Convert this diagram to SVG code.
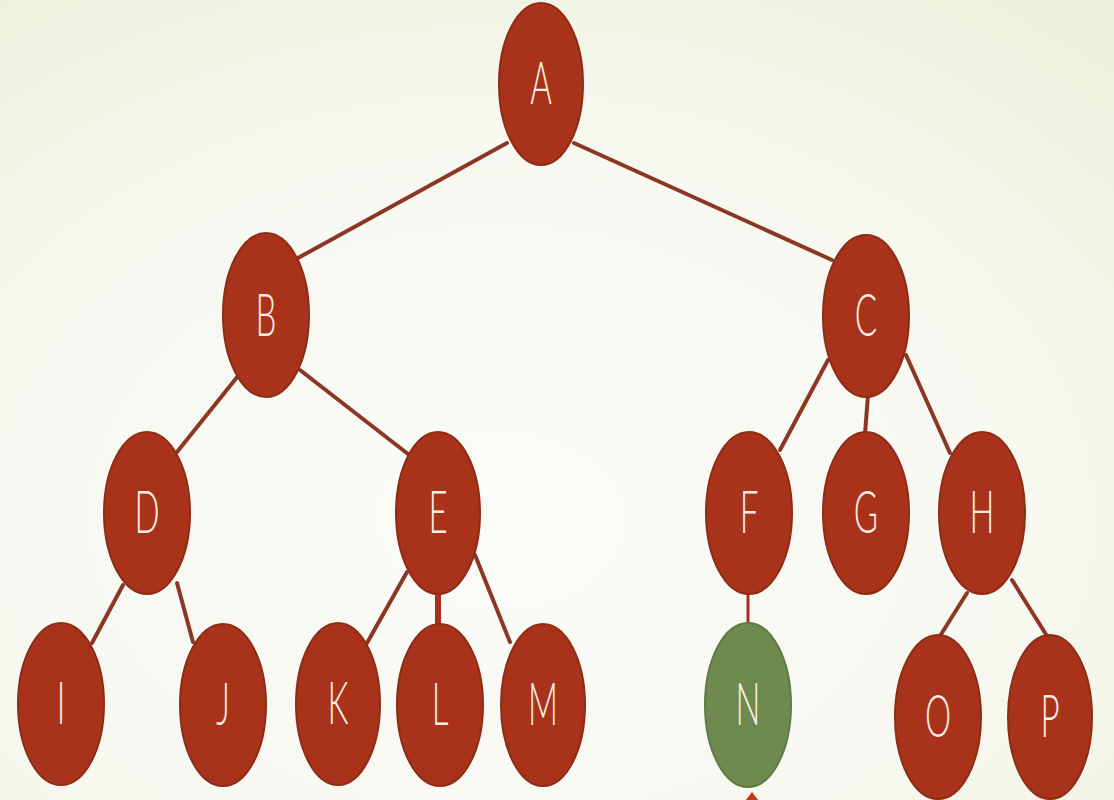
<svg xmlns="http://www.w3.org/2000/svg" width="1114" height="800" viewBox="0 0 1114 800">
<defs>
<radialGradient id="bg" cx="0.45" cy="0.65" r="0.8">
<stop offset="0" stop-color="#fbfbf8"/>
<stop offset="0.6" stop-color="#f7f8f0"/>
<stop offset="1" stop-color="#edf1dc"/>
</radialGradient>
<style>
.n ellipse{fill:#a9331a;stroke:#8e2c16;stroke-width:2}
.g ellipse{fill:#6e8a4f;stroke:#5f7a44;stroke-width:2}
.n text,.g text{font-family:Lato,"Open Sans","DejaVu Sans",sans-serif;font-weight:300;font-size:60px;fill:#fbefe4;text-anchor:middle}
.e line{stroke:#8c3726;stroke-width:4;stroke-linecap:round}
</style>
</defs>
<rect width="1114" height="800" fill="url(#bg)"/>
<g id="connectors" class="e">
<line x1="507" y1="143" x2="298" y2="258"/>
<line x1="574" y1="143" x2="832" y2="260"/>
<line x1="238" y1="376" x2="177" y2="452"/>
<line x1="300" y1="370" x2="408" y2="454"/>
<line x1="123" y1="585" x2="92" y2="643"/>
<line x1="177" y1="583" x2="193" y2="642"/>
<line x1="407" y1="572" x2="367" y2="643"/>
<line x1="438" y1="592" x2="438" y2="626" style="stroke:#a9301a;stroke-width:6;stroke-linecap:butt"/>
<line x1="475" y1="555" x2="510" y2="642"/>
<line x1="828" y1="360" x2="780" y2="450"/>
<line x1="868" y1="395" x2="865" y2="434"/>
<line x1="906" y1="355" x2="950" y2="453"/>
<line x1="748" y1="594" x2="748" y2="624" style="stroke:#b02c1a;stroke-width:3;stroke-linecap:butt"/>
<line x1="967" y1="593" x2="940" y2="636"/>
<line x1="1012" y1="580" x2="1047" y2="636"/>
</g>
<g id="node-A" class="n"><ellipse cx="541" cy="84" rx="42" ry="81"/><text transform="translate(541,104) scale(0.55,1)">A</text></g>
<g id="node-B" class="n"><ellipse cx="266" cy="315" rx="43" ry="82"/><text transform="translate(266,336) scale(0.55,1)">B</text></g>
<g id="node-C" class="n"><ellipse cx="866" cy="316" rx="43" ry="81"/><text transform="translate(866,336) scale(0.55,1)">C</text></g>
<g id="node-D" class="n"><ellipse cx="147" cy="513" rx="43" ry="81"/><text transform="translate(147,533) scale(0.55,1)">D</text></g>
<g id="node-E" class="n"><ellipse cx="438" cy="513" rx="42" ry="81"/><text transform="translate(438,533) scale(0.55,1)">E</text></g>
<g id="node-F" class="n"><ellipse cx="749" cy="513" rx="43" ry="81"/><text transform="translate(749,533) scale(0.55,1)">F</text></g>
<g id="node-G" class="n"><ellipse cx="866" cy="513" rx="43" ry="81"/><text transform="translate(866,533) scale(0.55,1)">G</text></g>
<g id="node-H" class="n"><ellipse cx="982" cy="513" rx="43" ry="81"/><text transform="translate(982,533) scale(0.55,1)">H</text></g>
<g id="node-I" class="n"><ellipse cx="61" cy="704" rx="43" ry="81"/><text transform="translate(61,724) scale(0.55,1)">I</text></g>
<g id="node-J" class="n"><ellipse cx="223" cy="705" rx="43" ry="81"/><text transform="translate(223,725) scale(0.55,1)">J</text></g>
<g id="node-K" class="n"><ellipse cx="338" cy="704" rx="42" ry="81"/><text transform="translate(338,724) scale(0.55,1)">K</text></g>
<g id="node-L" class="n"><ellipse cx="440" cy="705" rx="43" ry="81"/><text transform="translate(440,725) scale(0.55,1)">L</text></g>
<g id="node-M" class="n"><ellipse cx="543" cy="705" rx="42" ry="81"/><text transform="translate(543,725) scale(0.55,1)">M</text></g>
<g id="node-N" class="g"><ellipse cx="748" cy="705" rx="43" ry="82"/><text transform="translate(748,725) scale(0.55,1)">N</text></g>
<g id="node-O" class="n"><ellipse cx="938" cy="717" rx="43" ry="82"/><text transform="translate(938,737) scale(0.55,1)">O</text></g>
<g id="node-P" class="n"><ellipse cx="1050" cy="717" rx="42" ry="82"/><text transform="translate(1050,737) scale(0.55,1)">P</text></g>
<polygon id="pointer" points="752,792 745,801 759,801" fill="#c23a1c"/>
</svg>
